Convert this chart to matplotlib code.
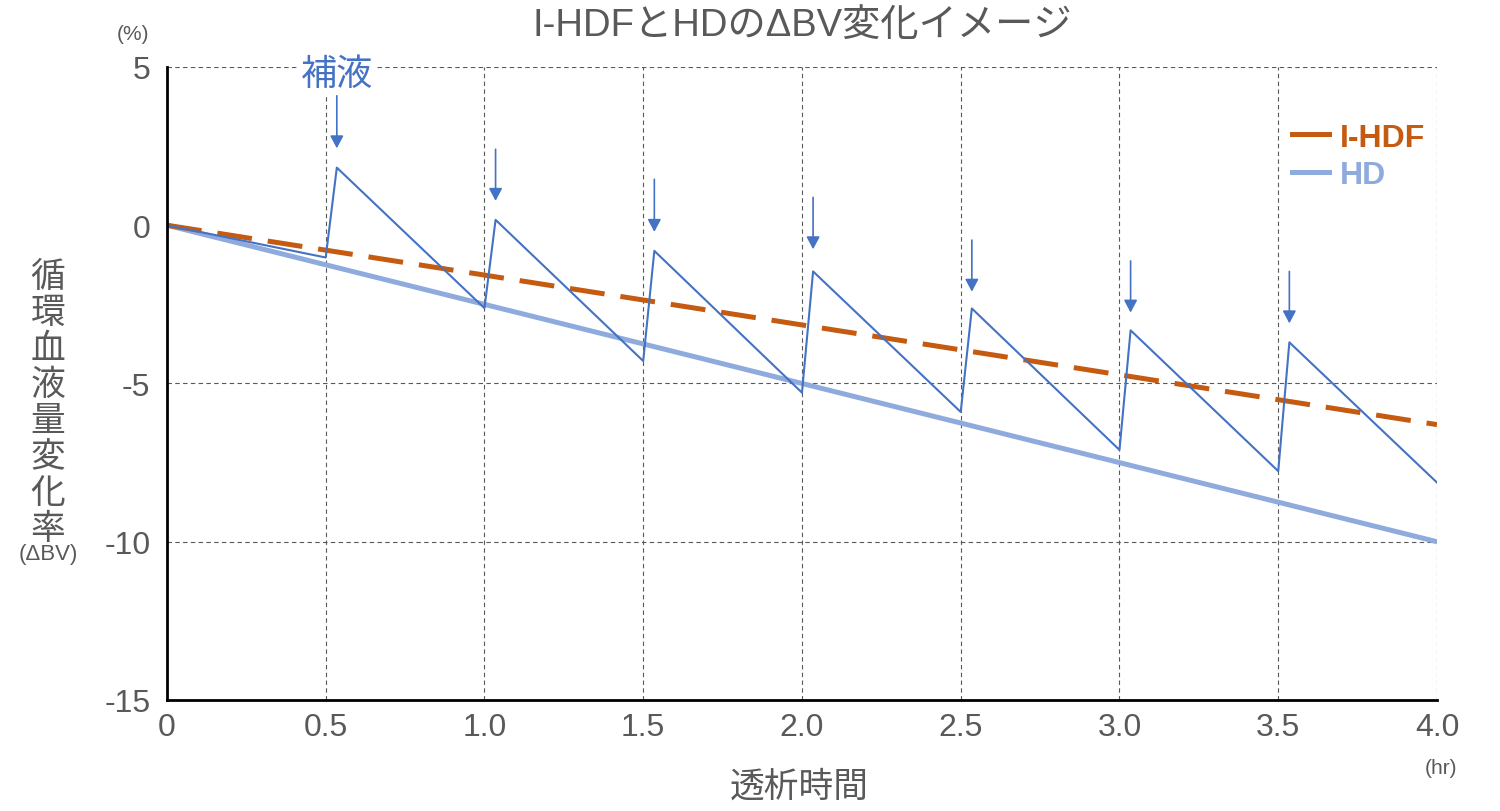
import matplotlib
matplotlib.use("Agg")
import matplotlib.pyplot as plt
from matplotlib.lines import Line2D

plt.rcParams['font.family'] = ['Liberation Sans', 'Noto Sans CJK JP', 'DejaVu Sans']
plt.rcParams['axes.unicode_minus'] = False

# data
hdf_time = [0, 4.0]
hdf_bv = [0, -6.3]
hd_time = [0, 4.0]
hd_bv = [0, -10.0]

# actual BV with the substitution-fluid boluses
saw_time = [0, 0.5, 0.535, 1.0, 1.035, 1.5, 1.535, 2.0, 2.035, 2.5, 2.535,
            3.0, 3.035, 3.5, 3.535, 4.0]
saw_bv = [0, -1.02, 1.82, -2.62, 0.17, -4.29, -0.81, -5.29, -1.46, -5.9, -2.63,
          -7.1, -3.32, -7.77, -3.7, -8.13]

arrow_time = [0.535, 1.035, 1.535, 2.035, 2.535, 3.035, 3.535]
arrow_top = [4.09, 2.40, 1.45, 0.88, -0.47, -1.13, -1.46]
arrow_tip = [2.43, 0.77, -0.21, -0.76, -2.1, -2.76, -3.1]

xticks = [0, 0.5, 1.0, 1.5, 2.0, 2.5, 3.0, 3.5, 4.0]
xtick_labels = ['0', '0.5', '1.0', '1.5', '2.0', '2.5', '3.0', '3.5', '4.0']
yticks = [-15, -10, -5, 0, 5]
ytick_labels = ['-15', '-10', '-5', '0', '5']
hgrid = [5, -5, -10]
vgrid = [0.5, 1.0, 1.5, 2.0, 2.5, 3.0, 3.5, 4.0]

gray = '#595959'
orange = '#C55A11'
light_blue = '#8FAADC'
blue = '#4472C4'

fig = plt.figure(figsize=(15, 8.12), dpi=100)
ax = fig.add_axes([0.1113, 0.1367, 0.8467, 0.7796])

for y in hgrid:
    ax.axhline(y, color=gray, lw=0.8, ls=(0, (4, 3)), zorder=1)
for x in vgrid:
    ax.axvline(x, color=gray, lw=0.8, ls=(0, (4, 3)), zorder=1)

ax.plot(hd_time, hd_bv, color=light_blue, lw=3.6, solid_capstyle='butt', zorder=3)
ax.plot(hdf_time, hdf_bv, color=orange, lw=3.6, dashes=(7, 3.2), zorder=4)
ax.plot(saw_time, saw_bv, color=blue, lw=1.5, zorder=5)

for x, y0, y1 in zip(arrow_time, arrow_top, arrow_tip):
    ax.annotate('', xy=(x, y1), xytext=(x, y0),
                arrowprops=dict(arrowstyle='-|>,head_length=0.75,head_width=0.4',
                                color=blue, lw=1.2, shrinkA=0, shrinkB=0,
                                mutation_scale=10))

ax.text(0.535, 4.75, '補液', color=blue, fontsize=26, ha='center', va='center',
        bbox=dict(facecolor='white', edgecolor='none', pad=2), zorder=6)

ax.set_xlim(0, 4.0)
ax.set_ylim(-15, 5)
ax.set_xticks(xticks)
ax.set_xticklabels(xtick_labels)
ax.set_yticks(yticks)
ax.set_yticklabels(ytick_labels)
ax.tick_params(length=0, labelsize=23, labelcolor=gray)
ax.tick_params(axis='y', pad=12)
ax.tick_params(axis='x', pad=9)

for side in ['top', 'right']:
    ax.spines[side].set_visible(False)
for side in ['left', 'bottom']:
    ax.spines[side].set_color('black')
    ax.spines[side].set_linewidth(2)
    ax.spines[side].set_zorder(7)

handles = [Line2D([], [], color=orange, lw=3.6),
           Line2D([], [], color=light_blue, lw=3.6)]
leg = ax.legend(handles, ['I-HDF', 'HD'], loc='upper left', bbox_to_anchor=(0.886, 0.912),
                frameon=False, prop={'size': 23, 'weight': 'bold'},
                handlelength=1.15, handletextpad=0.35, labelspacing=0.22,
                borderpad=0, borderaxespad=0)
for t, c in zip(leg.get_texts(), [orange, light_blue]):
    t.set_color(c)

fig.text(0.535, 0.968, 'I-HDFとHDのΔBV変化イメージ', color=gray, fontsize=27.5,
         ha='center', va='center')
fig.text(0.0887, 0.957, '(%)', color=gray, fontsize=15, ha='center', va='center')
fig.text(0.032, 0.503, '\n'.join('循環血液量変化率'), color=gray, fontsize=25,
         ha='center', va='center', linespacing=1.12)
fig.text(0.032, 0.317, '(ΔBV)', color=gray, fontsize=16, ha='center', va='center')
fig.text(0.533, 0.031, '透析時間', color=gray, fontsize=25, ha='center', va='center')
fig.text(0.961, 0.054, '(hr)', color=gray, fontsize=15, ha='center', va='center')

fig.savefig('out.png', dpi=100)
